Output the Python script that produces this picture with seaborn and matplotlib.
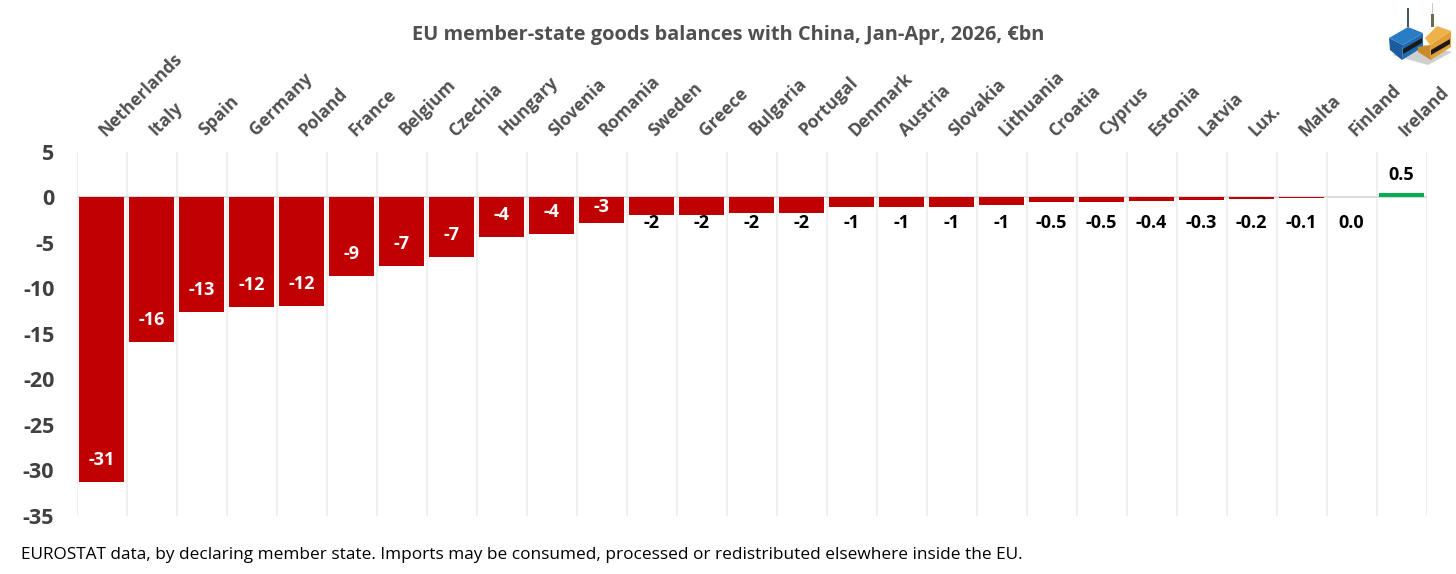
import pandas as pd
import seaborn as sns
import matplotlib.pyplot as plt
from matplotlib.patches import Polygon
from matplotlib.transforms import ScaledTranslation

countries = ['Netherlands', 'Italy', 'Spain', 'Germany', 'Poland', 'France', 'Belgium', 'Czechia', 'Hungary',
             'Slovenia', 'Romania', 'Sweden', 'Greece', 'Bulgaria', 'Portugal', 'Denmark', 'Austria', 'Slovakia',
             'Lithuania', 'Croatia', 'Cyprus', 'Estonia', 'Latvia', 'Lux.', 'Malta', 'Finland', 'Ireland']
balance = [-31.3, -15.9, -12.6, -12.1, -12.0, -8.7, -7.5, -6.6, -4.4, -4.0, -2.8, -1.9, -1.9, -1.75, -1.75,
           -1.0, -1.0, -1.0, -0.8, -0.5, -0.5, -0.4, -0.3, -0.2, -0.1, 0.02, 0.5]
labels = ['-31', '-16', '-13', '-12', '-12', '-9', '-7', '-7', '-4', '-4', '-3', '-2', '-2', '-2', '-2',
          '-1', '-1', '-1', '-1', '-0.5', '-0.5', '-0.4', '-0.3', '-0.2', '-0.1', '0.0', '0.5']
yticks = [5, 0, -5, -10, -15, -20, -25, -30, -35]

sns.set_theme(style='white')
plt.rcParams['font.family'] = ['Open Sans', 'DejaVu Sans']
plt.rcParams['axes.unicode_minus'] = False

df = pd.DataFrame({'country': countries, 'balance': balance})
df['sign'] = ['pos' if v > 0.1 else 'neg' for v in balance]

fig = plt.figure(figsize=(14.56, 5.74), dpi=100)
ax = fig.add_axes([76.5 / 1456, 1 - 515.5 / 574, 1350 / 1456, 363.5 / 574])
sns.barplot(data=df, x='country', y='balance', hue='sign', palette={'neg': '#c00000', 'pos': '#00b050'},
            dodge=False, width=0.91, saturation=1, linewidth=0, legend=False, ax=ax, zorder=3)

ax.set_xlim(-0.5, 26.5)
ax.set_ylim(-35, 5)
ax.set_xlabel('')
ax.set_ylabel('')
ax.set_yticks(yticks)
ax.tick_params(axis='y', length=0, pad=16, labelsize=15.5, labelcolor='#404040')
for t in ax.get_yticklabels():
    t.set_fontweight('bold')

# country names on top, slanted
ax.xaxis.tick_top()
ax.set_xticks(range(len(countries)))
ax.set_xticklabels(countries, rotation=45, ha='left', rotation_mode='anchor', fontsize=12.6,
                   fontweight='bold', color='#505050')
ax.tick_params(axis='x', which='major', length=0, pad=9)
shift = ScaledTranslation(7 / 100, 0, fig.dpi_scale_trans)
for t in ax.get_xticklabels():
    t.set_transform(t.get_transform() + shift)

# light lines between the categories
ax.set_xticks([i - 0.5 for i in range(len(countries) + 1)], minor=True)
ax.tick_params(axis='x', which='minor', length=0)
ax.grid(True, axis='x', which='minor', color='#eeeeee', linewidth=1.3, zorder=0)
ax.grid(False, axis='y')
ax.axhline(0, color='#d9d9d9', linewidth=1.3, zorder=2)
for s in ax.spines.values():
    s.set_visible(False)

# value labels, white inside the long bars and black at one height under the short ones
for i, (v, lab) in enumerate(zip(balance, labels)):
    if v <= -2.5:
        ax.annotate(lab, (i, v), xytext=(0, min(22, 5.5 * abs(v))), textcoords='offset pixels', ha='center',
                    va='center', color='white', fontsize=13, fontweight='bold', zorder=4)
    elif v < 0.1:
        ax.annotate(lab, (i, 0), xytext=(0, -26), textcoords='offset pixels', ha='center', va='center',
                    color='black', fontsize=13, fontweight='bold', zorder=4)
    else:
        ax.annotate(lab, (i, v), xytext=(0, 18), textcoords='offset pixels', ha='center', va='center',
                    color='black', fontsize=13, fontweight='bold', zorder=4)

fig.text(728 / 1456, 1 - 35 / 574, 'EU member-state goods balances with China, Jan-Apr, 2026, €bn', ha='center',
         va='center', fontsize=14.4, fontweight='bold', color='#505050')
fig.text(21 / 1456, 1 - 555 / 574, 'EUROSTAT data, by declaring member state. Imports may be consumed, processed '
         'or redistributed elsewhere inside the EU.', ha='left', va='center', fontsize=12.4, color='black')

# little container logo, top right
logo = fig.add_axes([1385 / 1456, 1 - 68 / 574, 71 / 1456, 68 / 574])
logo.set_xlim(1385, 1456)
logo.set_ylim(68, 0)
logo.axis('off')
shapes = [
    ([(1392, 55), (1428, 65), (1452, 52), (1420, 44)], '#cfcfcf'),
    ([(1389, 38), (1403, 45), (1402, 60), (1390, 50)], '#1a5c9c'),
    ([(1403, 45), (1423, 33), (1423, 47), (1402, 60)], '#1f6cb0'),
    ([(1389, 38), (1408, 27), (1423, 33), (1403, 45)], '#2a7cc4'),
    ([(1403, 49), (1422, 38), (1422, 43), (1403, 54)], '#1a1a1a'),
    ([(1418, 47), (1430, 45), (1431, 60), (1418, 52)], '#c98a28'),
    ([(1430, 45), (1451, 31), (1451, 47), (1431, 60)], '#e5a035'),
    ([(1425, 38), (1437, 26), (1451, 31), (1430, 45)], '#efb24a'),
    ([(1431, 50), (1450, 39), (1450, 44), (1431, 55)], '#1a1a1a'),
    ([(1407, 8), (1409, 8), (1409, 27), (1407, 27)], '#44586a'),
    ([(1431, 14), (1434, 14), (1434, 27), (1431, 27)], '#6b6b50'),
    ([(1431.5, 3), (1432.5, 3), (1432.5, 14), (1431.5, 14)], '#c8c8c8'),
]
for pts, col in shapes:
    logo.add_patch(Polygon(pts, closed=True, facecolor=col, edgecolor='none'))

plt.savefig('out.png', dpi=100)
